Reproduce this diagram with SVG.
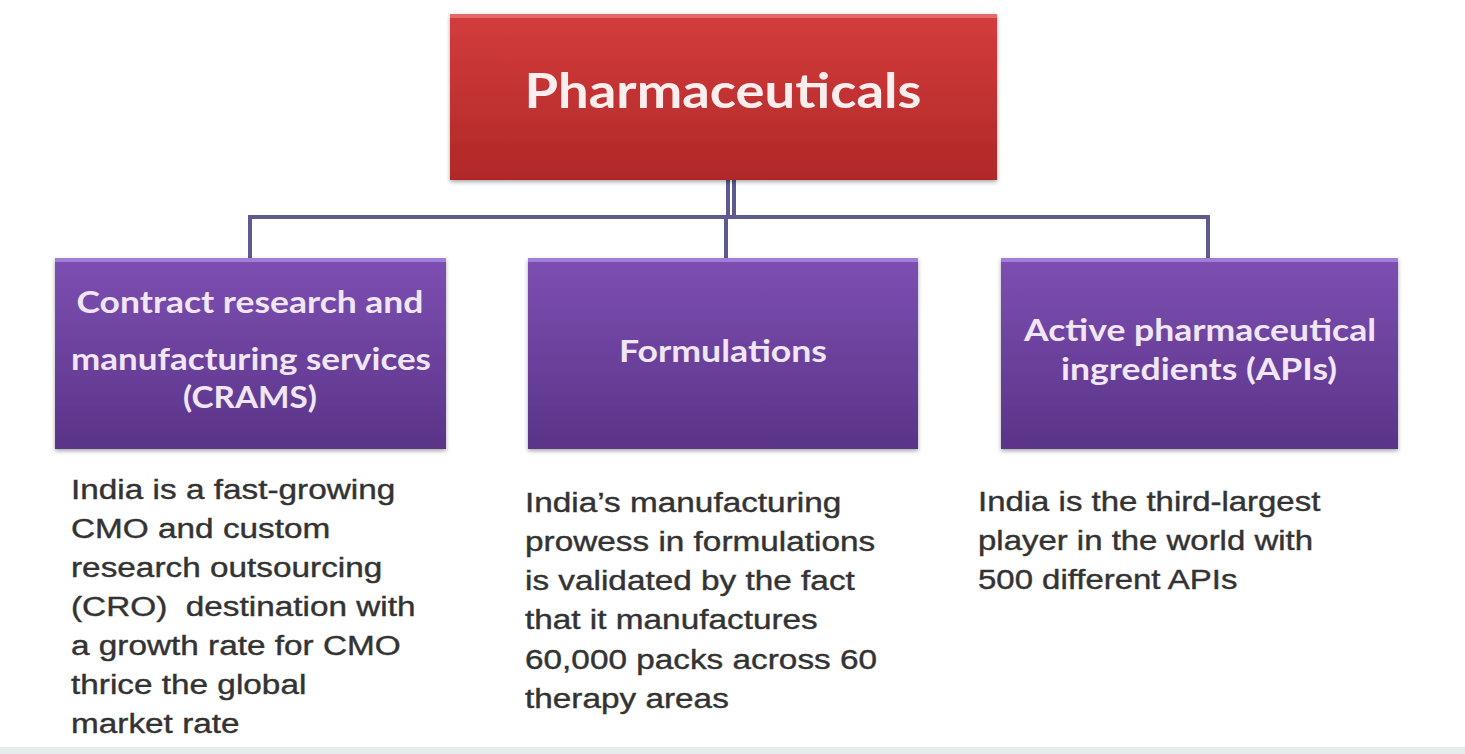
<svg xmlns="http://www.w3.org/2000/svg" width="1465" height="754" viewBox="0 0 1465 754">
<defs>
<linearGradient id="gRed" x1="0" y1="0" x2="0" y2="1">
<stop offset="0" stop-color="#d43c3c"/>
<stop offset="1" stop-color="#b02828"/>
</linearGradient>
<linearGradient id="gPur" x1="0" y1="0" x2="0" y2="1">
<stop offset="0" stop-color="#7d4fb2"/>
<stop offset="1" stop-color="#5a3488"/>
</linearGradient>
<filter id="sh" x="-5%" y="-5%" width="110%" height="115%">
<feDropShadow dx="0" dy="2" stdDeviation="2" flood-color="#000" flood-opacity="0.35"/>
</filter>
</defs>
<style>
.title{font-family:"Lato","Open Sans",sans-serif;font-weight:bold;fill:#fbeeee;}
.sub{font-family:"Lato","Open Sans",sans-serif;font-weight:bold;fill:#f0e6f6;font-size:30px;}
.body{font-family:"Liberation Sans",Arial,sans-serif;font-size:27px;fill:#333;stroke:#333;stroke-width:0.4;}
.conn{stroke:#5c5a8e;stroke-width:4;fill:none;}
</style>
<rect x="0" y="0" width="1465" height="754" fill="#ffffff"/>
<rect x="0" y="747" width="1465" height="7" fill="#e6ecec"/>

<g id="connectors">
<line class="conn" x1="728" y1="180" x2="728" y2="216" stroke-width="3"/>
<line class="conn" x1="734" y1="180" x2="734" y2="216" stroke-width="3"/>
<polyline class="conn" points="250,258 250,217 1208,217 1208,258"/>
<line class="conn" x1="726" y1="217" x2="726" y2="258"/>
</g>

<g id="node-pharma">
<rect x="450" y="14" width="547" height="166" fill="url(#gRed)" filter="url(#sh)"/>
<rect x="450" y="14" width="547" height="4" fill="#e46a6a"/>
<text class="title" x="723" y="108" font-size="48" text-anchor="middle" textLength="397" lengthAdjust="spacingAndGlyphs">Pharmaceuticals</text>
</g>

<g id="node-crams">
<rect x="55" y="258" width="391" height="191" fill="url(#gPur)" filter="url(#sh)"/>
<rect x="55" y="258" width="391" height="4" fill="#a27fd6"/>
<text class="sub" x="250" y="313" text-anchor="middle" textLength="347" lengthAdjust="spacingAndGlyphs">Contract research and</text>
<text class="sub" x="251" y="370" text-anchor="middle" textLength="360" lengthAdjust="spacingAndGlyphs">manufacturing services</text>
<text class="sub" x="250" y="408" text-anchor="middle" textLength="134" lengthAdjust="spacingAndGlyphs">(CRAMS)</text>
</g>

<g id="node-formulations">
<rect x="528" y="258" width="390" height="191" fill="url(#gPur)" filter="url(#sh)"/>
<rect x="528" y="258" width="390" height="4" fill="#a27fd6"/>
<text class="sub" x="723" y="362" text-anchor="middle" textLength="208" lengthAdjust="spacingAndGlyphs">Formulations</text>
</g>

<g id="node-apis">
<rect x="1001" y="258" width="397" height="191" fill="url(#gPur)" filter="url(#sh)"/>
<rect x="1001" y="258" width="397" height="4" fill="#a27fd6"/>
<text class="sub" x="1200" y="341" text-anchor="middle" textLength="352" lengthAdjust="spacingAndGlyphs">Active pharmaceutical</text>
<text class="sub" x="1199" y="380" text-anchor="middle" textLength="276" lengthAdjust="spacingAndGlyphs">ingredients (APIs)</text>
</g>

<g id="text-crams" transform="translate(71 0) scale(1.235 1)">
<text class="body" x="0" y="499">India is a fast-growing</text>
<text class="body" x="0" y="538">CMO and custom</text>
<text class="body" x="0" y="577">research outsourcing</text>
<text class="body" x="0" y="616" xml:space="preserve">(CRO)  destination with</text>
<text class="body" x="0" y="655">a growth rate for CMO</text>
<text class="body" x="0" y="694">thrice the global</text>
<text class="body" x="0" y="733">market rate</text>
</g>

<g id="text-formulations" transform="translate(525 0) scale(1.235 1)">
<text class="body" x="0" y="512">India’s manufacturing</text>
<text class="body" x="0" y="551">prowess in formulations</text>
<text class="body" x="0" y="590">is validated by the fact</text>
<text class="body" x="0" y="629">that it manufactures</text>
<text class="body" x="0" y="669">60,000 packs across 60</text>
<text class="body" x="0" y="708">therapy areas</text>
</g>

<g id="text-apis" transform="translate(978 0) scale(1.22 1)">
<text class="body" x="0" y="511">India is the third-largest</text>
<text class="body" x="0" y="550">player in the world with</text>
<text class="body" x="0" y="589">500 different APIs</text>
</g>
</svg>
